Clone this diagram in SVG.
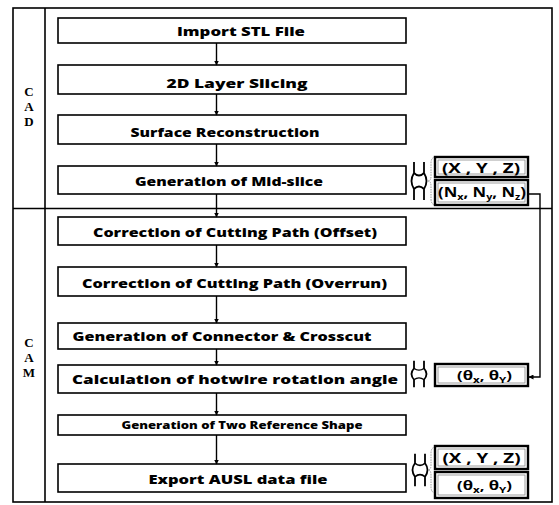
<svg xmlns="http://www.w3.org/2000/svg" width="559" height="505" viewBox="0 0 559 505">
  <style>
    .frame { fill: none; stroke: #000; stroke-width: 1.6; }
    .box { fill: #fff; stroke: #000; stroke-width: 1.6; }
    .lbl { font-family: "Open Sans", "Liberation Sans", sans-serif; font-weight: 800; font-size: 12.5px; fill: #000; text-anchor: middle; }
    .side { font-family: "Liberation Serif", serif; font-weight: 700; font-size: 13px; fill: #000; text-anchor: middle; }
    .dbox { fill: #fff; stroke: #000; stroke-width: 2.4; }
    .dinner { fill: none; stroke: #888; stroke-width: 0.8; }
    .val { font-family: "Open Sans", "Liberation Sans", sans-serif; font-weight: 700; font-size: 14px; fill: #000; text-anchor: middle; }
    .sub { font-size: 9px; }
    .flow { fill: none; stroke: #000; stroke-width: 1.4; marker-end: url(#tip); }
    .sym { fill: #fff; stroke: #000; stroke-width: 1.8; stroke-linejoin: round; }
    .brace { fill: none; stroke: #999; stroke-width: 1; stroke-dasharray: 1.5 1; }
  </style>
  <defs>
    <marker id="tip" viewBox="0 0 10 10" refX="9" refY="5" markerWidth="5" markerHeight="5" orient="auto" markerUnits="userSpaceOnUse">
      <path d="M0,0 L10,5 L0,10 Z" fill="#000"/>
    </marker>
    <!-- two-way exchange symbol, centred on 0,0 -->
    <path id="xchg" d="M-5,-19 V-8 Q-10,0 -5,8 V19 M5,-19 V-8 Q10,0 5,8 V19 M-5,-8 Q0,-3 5,-8 M-5,8 Q0,3 5,8"/>
  </defs>

  <!-- outer frame with CAD / CAM split -->
  <g id="frame">
    <rect class="frame" x="13" y="8" width="539" height="494"/>
    <line class="frame" x1="45" y1="8" x2="45" y2="502"/>
    <line class="frame" x1="13" y1="208.5" x2="552" y2="208.5"/>
  </g>

  <g id="label-cad">
    <text class="side" x="29" y="96">C</text>
    <text class="side" x="29" y="111">A</text>
    <text class="side" x="29" y="126">D</text>
  </g>
  <g id="label-cam">
    <text class="side" x="29" y="347">C</text>
    <text class="side" x="29" y="362">A</text>
    <text class="side" x="29" y="377">M</text>
  </g>

  <!-- process steps -->
  <g id="step-import">
    <rect class="box" x="58" y="18" width="348" height="25"/>
    <text class="lbl" x="241" y="36" textLength="128" lengthAdjust="spacingAndGlyphs">Import  STL  File</text>
  </g>
  <g id="step-slicing">
    <rect class="box" x="58" y="65" width="348" height="29"/>
    <text class="lbl" x="237" y="88" textLength="141" lengthAdjust="spacingAndGlyphs">2D Layer Slicing</text>
  </g>
  <g id="step-surface">
    <rect class="box" x="58" y="115" width="348" height="29"/>
    <text class="lbl" x="225" y="137" textLength="189" lengthAdjust="spacingAndGlyphs">Surface Reconstruction</text>
  </g>
  <g id="step-midslice">
    <rect class="box" x="58" y="166" width="348" height="28"/>
    <text class="lbl" x="229" y="186" textLength="188" lengthAdjust="spacingAndGlyphs">Generation of Mid-slice</text>
  </g>
  <g id="step-offset">
    <rect class="box" x="58" y="217" width="348" height="28"/>
    <text class="lbl" x="235" y="237" textLength="284" lengthAdjust="spacingAndGlyphs">Correction of Cutting Path (Offset)</text>
  </g>
  <g id="step-overrun">
    <rect class="box" x="58" y="267" width="348" height="29"/>
    <text class="lbl" x="234.5" y="288" textLength="305" lengthAdjust="spacingAndGlyphs">Correction of Cutting Path (Overrun)</text>
  </g>
  <g id="step-connector">
    <rect class="box" x="58" y="323" width="348" height="26"/>
    <text class="lbl" x="222" y="341" textLength="299" lengthAdjust="spacingAndGlyphs">Generation of Connector &amp; Crosscut</text>
  </g>
  <g id="step-rotation">
    <rect class="box" x="58" y="365" width="348" height="28"/>
    <text class="lbl" x="235" y="384" textLength="326" lengthAdjust="spacingAndGlyphs">Calculation of hotwire rotation angle</text>
  </g>
  <g id="step-reference">
    <rect class="box" x="58" y="415" width="348" height="20"/>
    <text class="lbl" x="242" y="429" style="font-size:10.5px" textLength="241" lengthAdjust="spacingAndGlyphs">Generation of Two Reference Shape</text>
  </g>
  <g id="step-export">
    <rect class="box" x="58" y="464" width="348" height="28"/>
    <text class="lbl" x="238" y="484" textLength="179" lengthAdjust="spacingAndGlyphs">Export AUSL data file</text>
  </g>

  <!-- data outputs -->
  <g id="out-midslice">
    <use href="#xchg" class="sym" x="419" y="181"/>
    <path class="brace" d="M436,157 Q431,157 431,163 V176 Q431,181 428,181 Q431,181 431,186 V199 Q431,205 436,205"/>
    <rect class="dbox" x="435" y="157" width="93" height="20"/>
    <rect class="dinner" x="438" y="160" width="87" height="14"/>
    <text class="val" x="481" y="173" textLength="78" lengthAdjust="spacingAndGlyphs">(X , Y , Z)</text>
    <rect class="dbox" x="435" y="180" width="93" height="25"/>
    <rect class="dinner" x="438" y="183" width="87" height="19"/>
    <text class="val" x="482" y="197" textLength="88" lengthAdjust="spacingAndGlyphs">(N<tspan class="sub" dy="3">x</tspan><tspan dy="-3">, N</tspan><tspan class="sub" dy="3">y</tspan><tspan dy="-3">, N</tspan><tspan class="sub" dy="3">z</tspan><tspan dy="-3">)</tspan></text>
  </g>
  <g id="out-rotation">
    <use href="#xchg" class="sym" x="419" y="374" transform="translate(419 374) scale(1 0.7) translate(-419 -374)"/>
    <rect class="dbox" x="435" y="364" width="93" height="22"/>
    <rect class="dinner" x="438" y="367" width="87" height="16"/>
    <text class="val" x="484.5" y="380" style="font-size:13px" textLength="55" lengthAdjust="spacingAndGlyphs">(θ<tspan class="sub" dy="3">x</tspan><tspan dy="-3">, θ</tspan><tspan class="sub" dy="3">Y</tspan><tspan dy="-3">)</tspan></text>
  </g>
  <g id="out-export">
    <use href="#xchg" class="sym" x="420" y="470" transform="translate(420 470) scale(1 0.85) translate(-420 -470)"/>
    <path class="brace" d="M436,447 Q431,447 431,453 V465 Q431,470 428,470 Q431,470 431,475 V487 Q431,493 436,493"/>
    <rect class="dbox" x="435" y="446" width="93" height="23"/>
    <rect class="dinner" x="438" y="449" width="87" height="17"/>
    <text class="val" x="481.5" y="463" textLength="78" lengthAdjust="spacingAndGlyphs">(X , Y , Z)</text>
    <rect class="dbox" x="435" y="472" width="93" height="26"/>
    <rect class="dinner" x="438" y="475" width="87" height="20"/>
    <text class="val" x="484.5" y="490" style="font-size:13px" textLength="55" lengthAdjust="spacingAndGlyphs">(θ<tspan class="sub" dy="3">x</tspan><tspan dy="-3">, θ</tspan><tspan class="sub" dy="3">Y</tspan><tspan dy="-3">)</tspan></text>
  </g>

  <!-- connectors -->
  <g id="connectors">
    <line class="flow" x1="216.5" y1="43" x2="216.5" y2="65"/>
    <line class="flow" x1="216.5" y1="94" x2="216.5" y2="115"/>
    <line class="flow" x1="216.5" y1="144" x2="216.5" y2="166"/>
    <line class="flow" x1="216.5" y1="194" x2="216.5" y2="217"/>
    <line class="flow" x1="216.5" y1="245" x2="216.5" y2="267"/>
    <line class="flow" x1="216.5" y1="296" x2="216.5" y2="323"/>
    <line class="flow" x1="216.5" y1="349" x2="216.5" y2="365"/>
    <line class="flow" x1="216.5" y1="393" x2="216.5" y2="415"/>
    <line class="flow" x1="216.5" y1="435" x2="216.5" y2="464"/>
    <path class="flow" d="M528,194 H540 V377 H529"/>
  </g>
</svg>
